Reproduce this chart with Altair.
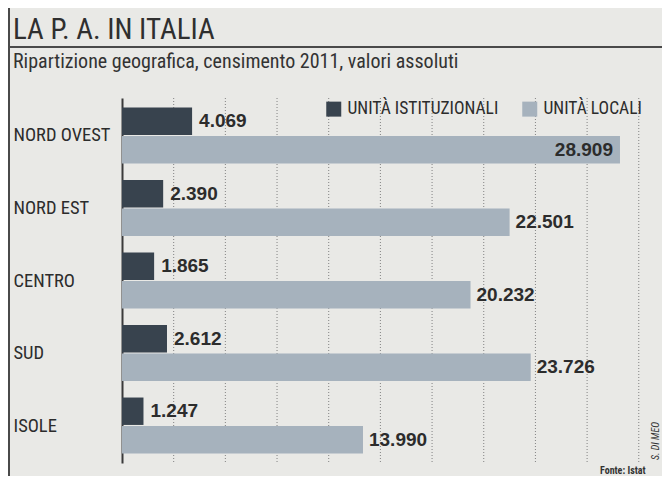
import altair as alt
import pandas as pd

# ---- data ----
regions = ["NORD OVEST", "NORD EST", "CENTRO", "SUD", "ISOLE"]
istituzionali = [4069, 2390, 1865, 2612, 1247]
locali = [28909, 22501, 20232, 23726, 13990]
series = ["UNITÀ ISTITUZIONALI", "UNITÀ LOCALI"]
grid_values = [3000, 6000, 9000, 12000, 15000, 18000, 21000, 24000, 27000, 30000]

title_text = "LA P. A. IN ITALIA"
subtitle_text = "Ripartizione geografica, censimento 2011, valori assoluti"
source_text = "Fonte: Istat"
author_text = "S. DI MEO"

rows = []
for r, a, b in zip(regions, istituzionali, locali):
    rows.append({"regione": r, "serie": series[0], "valore": a})
    rows.append({"regione": r, "serie": series[1], "valore": b})
df = pd.DataFrame(rows)
df["etichetta"] = df["valore"].map(lambda v: f"{v:,}".replace(",", "."))
grid_df = pd.DataFrame({"valore": grid_values})

NARROW = "Roboto Condensed, Liberation Sans Narrow, Roboto, sans-serif"
WIDE = "Liberation Sans, Arial, sans-serif"
DARK = "#38434e"
LIGHT = "#a6b2bd"
INK = "#2c2c2c"
BG = "#e9e9e6"

x_scale = alt.Scale(domain=[0, 31000], nice=False)

y_enc = alt.Y(
    "regione:N",
    sort=regions,
    scale=alt.Scale(paddingInner=0.228, paddingOuter=0.131),
    axis=alt.Axis(
        title=None, ticks=False, grid=False,
        domainColor="#3a3a3a", domainWidth=2,
        labelAlign="left", labelPadding=109, labelBaseline="middle",
        labelFont=NARROW, labelFontSize=18.5, labelColor=INK,
    ),
)
yoff_enc = alt.YOffset("serie:N", sort=series, scale=alt.Scale(paddingInner=0.04))
x_enc = alt.X("valore:Q", scale=x_scale, axis=None)

grid = alt.Chart(grid_df).mark_rule(
    color="#828282", strokeWidth=1, strokeDash=[1, 2]
).encode(x=alt.X("valore:Q", scale=x_scale, axis=None), y=alt.value(0), y2=alt.value(365))

bars = alt.Chart(df).mark_bar().encode(
    y=y_enc,
    yOffset=yoff_enc,
    x=x_enc,
    color=alt.Color(
        "serie:N",
        sort=series,
        scale=alt.Scale(domain=series, range=[DARK, LIGHT]),
        legend=alt.Legend(
            title=None, orient="none", legendX=203, legendY=2,
            direction="horizontal", symbolType="square", symbolSize=225,
            symbolStrokeWidth=0, labelFont=NARROW, labelFontSize=17.5,
            labelColor=INK, columnPadding=22, labelOffset=5,
        ),
    ),
)

txt_common = dict(font=WIDE, fontSize=19, fontWeight="bold", color=INK, baseline="middle")

def value_layer(pred, **kw):
    return alt.Chart(df).transform_filter(pred).mark_text(**kw, **txt_common).encode(
        y=alt.Y("regione:N", sort=regions),
        yOffset=alt.YOffset("serie:N", sort=series),
        x=alt.X("valore:Q", scale=x_scale, axis=None),
        text="etichetta:N",
    )

lab_ist = value_layer(alt.datum.serie == series[0], align="left", dx=7)
lab_loc_out = value_layer((alt.datum.serie == series[1]) & (alt.datum.valore < 27000), align="left", dx=6)
lab_loc_in = value_layer((alt.datum.serie == series[1]) & (alt.datum.valore >= 27000), align="right", dx=-7)

one = pd.DataFrame({"k": [0]})

title = alt.Chart(pd.DataFrame({"t": [title_text]})).mark_text(
    font=NARROW, fontSize=29, color="#2f2f2f", align="left", baseline="alphabetic"
).encode(x=alt.value(-109), y=alt.value(-59), text="t:N")

subtitle = alt.Chart(pd.DataFrame({"t": [subtitle_text]})).mark_text(
    font=NARROW, fontSize=20, color="#333333", align="left", baseline="alphabetic"
).encode(x=alt.value(-109), y=alt.value(-30), text="t:N")

source = alt.Chart(pd.DataFrame({"t": [source_text]})).mark_text(
    font=NARROW, fontSize=10, fontWeight="bold", color="#333333", align="left", baseline="alphabetic"
).encode(x=alt.value(478), y=alt.value(376), text="t:N")

author = alt.Chart(pd.DataFrame({"t": [author_text]})).mark_text(
    font=NARROW, fontSize=10, fontStyle="italic", color="#333333", align="center",
    baseline="middle", angle=270
).encode(x=alt.value(534), y=alt.value(343), text="t:N")

underline = alt.Chart(one).mark_rule(color="#4a4a4a", strokeWidth=2).encode(
    x=alt.value(-114), x2=alt.value(540), y=alt.value(-51)
)
left_border = alt.Chart(one).mark_rule(color="#4a4a4a", strokeWidth=2).encode(
    x=alt.value(-113), y=alt.value(-90), y2=alt.value(378)
)

chart = alt.layer(
    underline, left_border, title, subtitle, grid,
    bars, lab_ist, lab_loc_out, lab_loc_in, source, author,
).properties(
    width=534, height=365,
    padding={"left": 114, "top": 90, "right": 6, "bottom": 13},
    autosize=alt.AutoSizeParams(type="none"),
    background=BG,
).configure_view(strokeWidth=0)

chart.save("out.html", embed_options={"renderer": "svg", "actions": False})
